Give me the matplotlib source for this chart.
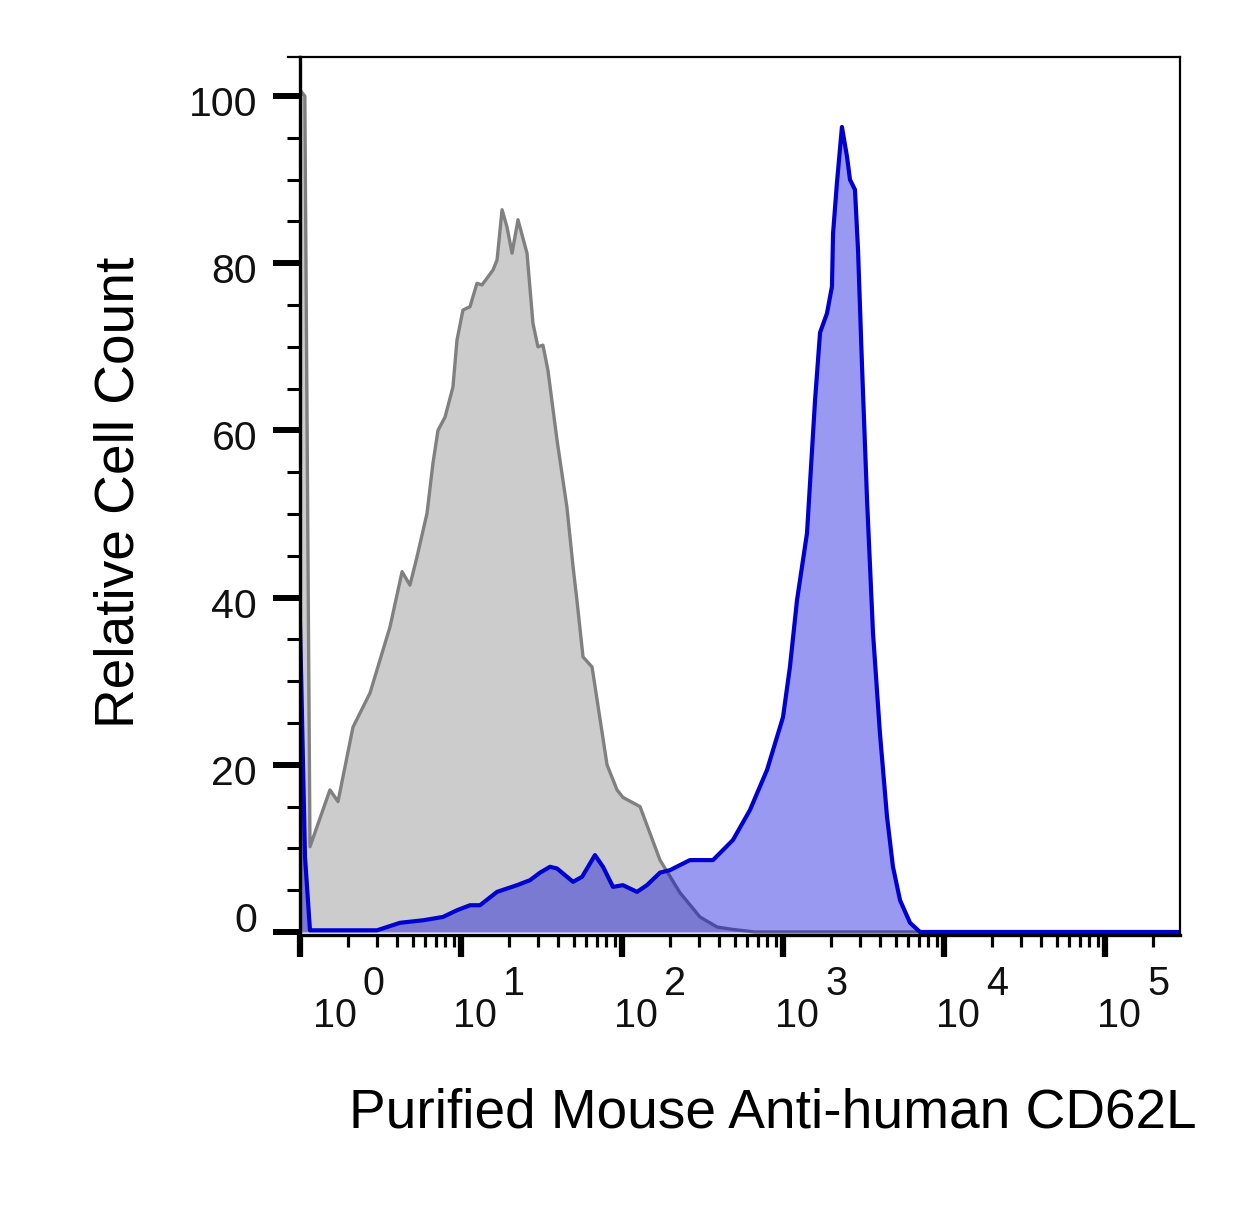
import numpy as np
import matplotlib
matplotlib.use("Agg")
import matplotlib.pyplot as plt
from matplotlib import transforms
from matplotlib.ticker import FixedLocator, LogLocator, MultipleLocator, NullFormatter

plt.rcParams['font.family'] = ['Liberation Sans', 'DejaVu Sans']

# ---------------- data (x as log10 fluorescence intensity) ----------------
gray_log = [0.000, 0.030, 0.062, 0.186, 0.236, 0.329, 0.373, 0.435, 0.559, 0.634,
            0.683, 0.727, 0.789, 0.826, 0.857, 0.901, 0.950, 0.975, 1.012, 1.056,
            1.099, 1.130, 1.161, 1.199, 1.224, 1.255, 1.286, 1.317, 1.354, 1.410,
            1.447, 1.478, 1.509, 1.540, 1.596, 1.658, 1.696, 1.720, 1.758, 1.814,
            1.845, 1.907, 1.969, 2.006, 2.112, 2.174, 2.236, 2.360, 2.484, 2.590,
            2.689, 2.826, 5.466]
gray_count = [100.7, 100.0, 10.2, 17.0, 15.6, 24.5, 26.2, 28.6, 36.5, 43.1,
              41.5, 44.9, 50.1, 56.1, 60.0, 61.6, 65.2, 70.8, 74.4, 74.8,
              77.6, 77.4, 78.2, 79.2, 80.4, 86.4, 84.3, 81.2, 85.2, 81.2,
              72.8, 70.0, 70.2, 67.2, 58.9, 50.8, 43.7, 39.7, 32.9, 31.7,
              27.8, 20.0, 17.0, 16.1, 15.0, 11.8, 8.6, 4.7, 1.8, 0.6,
              0.3, 0.0, 0.0]

blue_log = [0.000, 0.031, 0.062, 0.478, 0.621, 0.764, 0.888, 0.975, 1.056, 1.118,
            1.224, 1.348, 1.429, 1.491, 1.553, 1.596, 1.696, 1.752, 1.832, 1.882,
            1.944, 2.006, 2.093, 2.155, 2.236, 2.298, 2.422, 2.565, 2.689, 2.795,
            2.901, 3.000, 3.043, 3.087, 3.149, 3.199, 3.230, 3.273, 3.304, 3.311,
            3.335, 3.366, 3.398, 3.416, 3.447, 3.466, 3.491, 3.522, 3.559, 3.602,
            3.646, 3.683, 3.727, 3.789, 3.851, 5.466]
blue_count = [37.0, 9.0, 0.2, 0.2, 1.1, 1.4, 1.8, 2.6, 3.2, 3.2,
              4.8, 5.6, 6.2, 7.1, 7.8, 7.6, 6.0, 6.6, 9.2, 7.8,
              5.4, 5.6, 4.8, 5.6, 7.1, 7.4, 8.6, 8.6, 11.0, 14.6,
              19.4, 25.7, 31.7, 39.7, 47.7, 63.6, 71.7, 74.0, 77.2, 83.6,
              89.6, 96.3, 92.7, 90.0, 88.8, 81.6, 67.6, 51.7, 35.8, 23.8,
              13.8, 7.8, 3.8, 1.1, 0.0, 0.0]

y_major_ticks = [0, 20, 40, 60, 80, 100]
y_tick_labels = ['0', '20', '40', '60', '80', '100']
x_decades = [0, 1, 2, 3, 4, 5]
x_label = "Purified Mouse Anti-human CD62L"
y_label = "Relative Cell Count"

# ---------------- figure ----------------
W, H = 1260, 1226
fig = plt.figure(figsize=(W / 100, H / 100), dpi=100)
fig.patch.set_facecolor('white')
ax = fig.add_axes([300 / W, 1 - 935 / H, 880 / W, 878 / H])

gx = 10 ** np.array(gray_log)
bx = 10 ** np.array(blue_log)

ax.fill_between(gx, gray_count, 0, color='#cccccc', lw=0, zorder=1)
ax.plot(gx, gray_count, color='#808080', lw=2.4, zorder=1.5, solid_joinstyle='round')
ax.fill_between(bx, blue_count, 0, color='#0000dd', alpha=0.4, lw=0, zorder=2)
ax.plot(bx, blue_count, color='#0000d0', lw=3.0, zorder=2.5, solid_joinstyle='round')

ax.set_xscale('log')
ax.set_xlim(1, 10 ** 5.4658)
ax.set_ylim(-0.36, 104.67)

ax.xaxis.set_major_locator(FixedLocator([10.0 ** k for k in x_decades]))
ax.xaxis.set_minor_locator(LogLocator(base=10, subs=np.arange(2, 10), numticks=100))
ax.xaxis.set_major_formatter(NullFormatter())
ax.xaxis.set_minor_formatter(NullFormatter())
ax.yaxis.set_major_locator(FixedLocator(y_major_ticks))
ax.yaxis.set_minor_locator(MultipleLocator(5))
ax.yaxis.set_major_formatter(NullFormatter())

ax.tick_params(axis='x', which='major', direction='out', length=15.8, width=4.5, color='black')
ax.tick_params(axis='x', which='minor', direction='out', length=8.6, width=2.3, color='black')
ax.tick_params(axis='y', which='major', direction='out', length=19.4, width=4.3, color='black')
ax.tick_params(axis='y', which='minor', direction='out', length=9.4, width=2.2, color='black')
ax.tick_params(top=False, right=False)

for side in ['left', 'bottom']:
    ax.spines[side].set_linewidth(2.4)
for side in ['top', 'right']:
    ax.spines[side].set_linewidth(1.6)

# small extension of the top frame line to the left
ax.plot([-12 / 880, 0], [1, 1], transform=ax.transAxes, clip_on=False, color='black', lw=1.6)

# y tick labels
ytr = ax.get_yaxis_transform()
for v, lab in zip(y_major_ticks, y_tick_labels):
    dy = 0 if v == 0 else -20
    t = transforms.offset_copy(ytr, fig=fig, x=-43, y=dy, units='dots')
    ax.text(0, v, lab, transform=t, ha='right', va='baseline', fontsize=29.5, color='#111111')

# x tick labels (10 with exponent)
xtr = ax.get_xaxis_transform()
for k in x_decades:
    dx = 13 if k == 0 else -8
    t1 = transforms.offset_copy(xtr, fig=fig, x=dx, y=-92, units='dots')
    t2 = transforms.offset_copy(xtr, fig=fig, x=dx + 50, y=-60, units='dots')
    ax.text(10.0 ** k, 0, "10", transform=t1, ha='left', va='baseline', fontsize=28.5, color='#111111')
    ax.text(10.0 ** k, 0, str(k), transform=t2, ha='left', va='baseline', fontsize=28.5, color='#111111')

fig.text(349 / W, 1 - 1127 / H, x_label, ha='left', va='baseline', fontsize=39.6, color='black')
fig.text(133 / W, 1 - 492 / H, y_label, rotation=90, rotation_mode='anchor',
         ha='center', va='baseline', fontsize=39.6, color='black')

fig.savefig('out.png', dpi=100, facecolor='white')
